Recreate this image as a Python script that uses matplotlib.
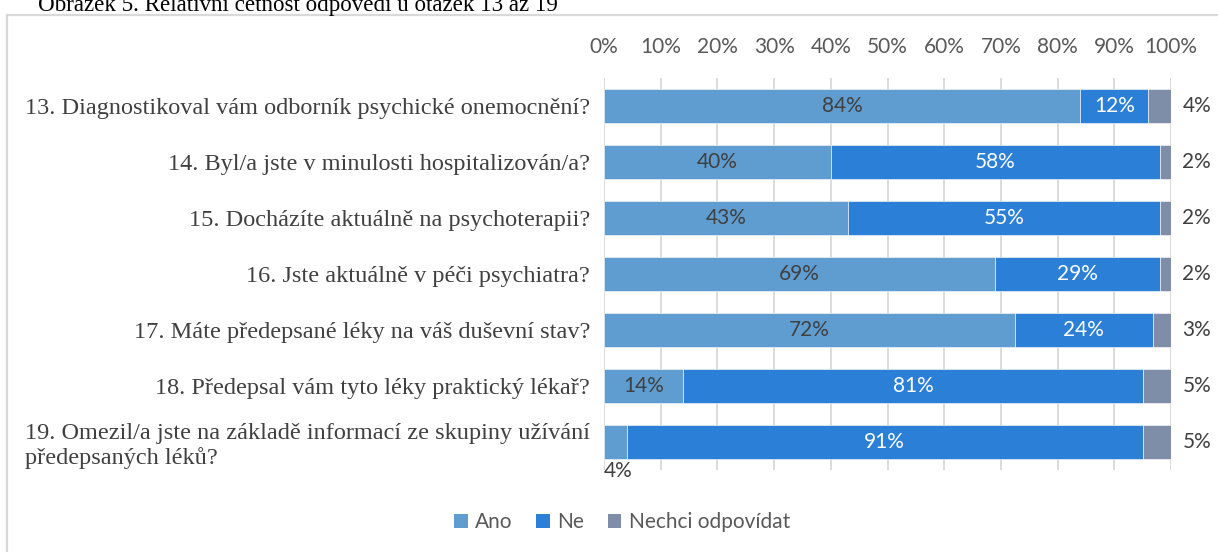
import matplotlib
matplotlib.use('Agg')
import matplotlib.pyplot as plt
from matplotlib.patches import Patch, Rectangle
import numpy as np

# data (percent)
questions = [
    '13. Diagnostikoval vám odborník psychické onemocnění?',
    '14. Byl/a jste v minulosti hospitalizován/a?',
    '15. Docházíte aktuálně na psychoterapii?',
    '16. Jste aktuálně v péči psychiatra?',
    '17. Máte předepsané léky na váš duševní stav?',
    '18. Předepsal vám tyto léky praktický lékař?',
    '19. Omezil/a jste na základě informací ze skupiny užívání\npředepsaných léků?',
]
ano = [84, 40, 43, 69, 72.4, 14, 4]
ne = [12, 58, 55, 29, 24.4, 81, 91]
nechci = [4, 2, 2, 2, 3.2, 5, 5]
series_names = ['Ano', 'Ne', 'Nechci odpovídat']
xticks = [0, 10, 20, 30, 40, 50, 60, 70, 80, 90, 100]

colors = ['#5f9dd1', '#2b7fd6', '#7e8ea8']
W, H = 1218, 552
sans = 'Lato'
serif = 'Liberation Serif'
fs = 15

fig = plt.figure(figsize=(W / 100, H / 100), dpi=100)
ax = fig.add_axes([604 / W, 1 - 470 / H, (1171 - 604) / W, (470 - 78) / H])

y = np.arange(len(questions))
bar_h = 0.62
left = np.zeros(len(questions))
for vals, col in zip([ano, ne, nechci], colors):
    ax.barh(y, vals, left=left, height=bar_h, color=col, edgecolor='white',
            linewidth=0.4, zorder=3)
    left += np.array(vals)

# data labels
for i in range(len(questions)):
    if ano[i] >= 8:
        ax.text(ano[i] / 2, y[i], f'{ano[i]:.0f}%', ha='center', va='center',
                fontsize=fs, color='#404040', family=sans, zorder=4)
    else:
        ax.annotate(f'{ano[i]:.0f}%', (0, y[i] + bar_h / 2), xytext=(0, -1),
                    textcoords='offset points', ha='left', va='top',
                    fontsize=fs, color='#404040', family=sans,
                    annotation_clip=False)
    ax.text(ano[i] + ne[i] / 2, y[i], f'{ne[i]:.0f}%', ha='center', va='center',
            fontsize=fs, color='white', family=sans, zorder=4)
    ax.text(102.0, y[i], f'{nechci[i]:.0f}%', ha='left', va='center',
            fontsize=fs, color='#404040', family=sans, clip_on=False)

ax.set_xlim(0, 100)
ax.set_ylim(len(questions) - 0.5, -0.5)
ax.xaxis.tick_top()
ax.set_xticks(xticks)
ax.set_xticklabels([f'{t}%' for t in xticks], family=sans, fontsize=fs,
                   color='#595959')
ax.tick_params(axis='x', length=0, pad=15)
ax.set_yticks(y)
ax.set_yticklabels(questions, family=serif, fontsize=17.5, color='#404040',
                   multialignment='left')
ax.tick_params(axis='y', length=0, pad=10)
ax.grid(axis='x', color='#d9d9d9', linewidth=1.3, zorder=0)
for s in ax.spines.values():
    s.set_visible(False)

# legend
handles = [Patch(facecolor=c, edgecolor='none') for c in colors]
leg = fig.legend(handles, series_names, loc='center', ncol=3,
                 bbox_to_anchor=(622 / W, 1 - 522 / H), frameon=False,
                 prop={'family': sans, 'size': fs}, handlelength=0.65,
                 handleheight=0.65, handletextpad=0.35, columnspacing=1.15)
for t in leg.get_texts():
    t.set_color('#595959')

# chart border and caption (caption is cut by the top edge, as in the source)
fig.add_artist(Rectangle((7 / W, -0.2), 1.2, 1 - 15 / H + 0.2,
                         transform=fig.transFigure, fill=False,
                         edgecolor='#d9d9d9', linewidth=1.6))
fig.text(38 / W, 1 - 11 / H, 'Obrázek 5. Relativní četnost odpovědí u otázek 13 až 19',
         family=serif, fontsize=16.6, va='baseline', ha='left', color='black')

fig.savefig('out.png', dpi=100)
